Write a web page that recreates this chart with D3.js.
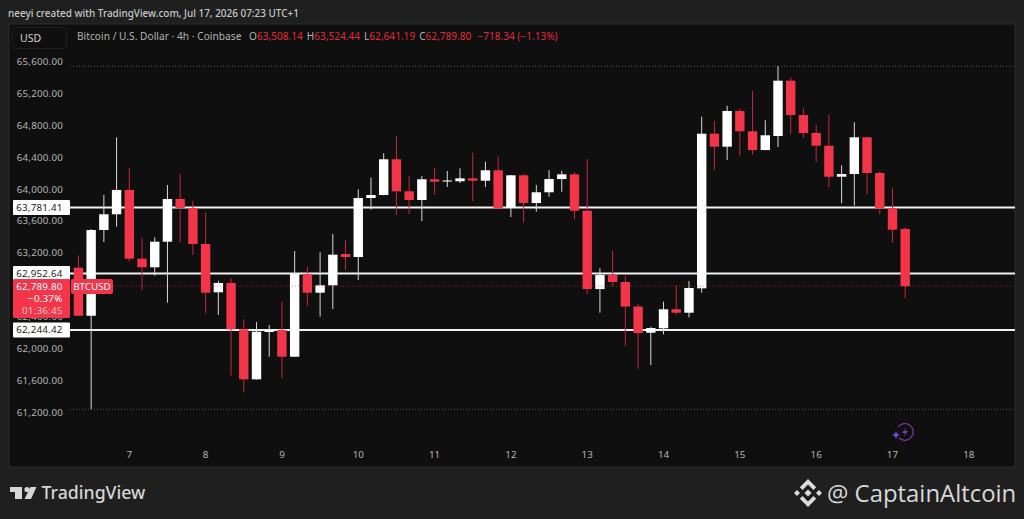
<!DOCTYPE html>
<html>
<head>
<meta charset="utf-8">
<title>BTCUSD 4h</title>
<script src="https://cdn.jsdelivr.net/npm/d3@7"></script>
<style>
  html, body { margin: 0; padding: 0; background: #1f1f1f; overflow: hidden; }
  text { font-family: "Noto Sans", sans-serif; }
</style>
</head>
<body>
<div id="chart"></div>
<script>
// 4h candles
const open = [63022,62419,63495,63692,63997,63135,63027,63348,63884,63771,63319,62713,62830,62249,61621,62215,62240,61905,62942,62708,62801,63193,63156,63896,63934,64382,63980,63871,64131,64103,64106,64143,64113,64244,63774,64181,63833,63968,64134,64193,63737,62754,62930,62842,62535,62206,62261,62500,62457,62763,64703,64540,64988,64733,64498,64674,65368,64937,64712,64552,64163,64197,64658,64210,63767,63508.14];
const high = [63177,63507,63934,64658,64272,63390,63403,64059,64197,63862,63717,62858,62889,62374,62340,62303,62595,63231,63034,63215,63444,63369,64005,64151,64457,64674,64172,64172,64272,64235,64269,64464,64352,64414,64185,64197,64059,64247,64235,64222,64385,63014,63231,62917,62566,62281,62595,62804,62855,64916,64862,65054,65022,65239,64871,65552,65410,65022,64812,64946,64306,64846,64665,64231,64018,63524.44];
const low = [62415,61249,63344,63536,63097,62742,62921,62582,63335,63181,62449,62428,61666,61458,61618,61905,61634,61901,62541,62407,62503,62993,62867,63749,63930,63683,63695,63607,63937,64034,64084,63858,64034,63763,63658,63586,63724,63912,63975,63629,62692,62457,62792,62039,61751,61801,62186,62428,62399,62708,64251,64373,64427,64436,64495,64536,64699,64649,64348,64030,63830,63800,63946,63695,63335,62641.19];
const close = [62419,63495,63692,63997,63135,63027,63348,63884,63771,63319,62708,62830,62249,61621,62219,62240,61905,62942,62708,62801,63185,63156,63896,63934,64382,63980,63871,64131,64101,64116,64143,64113,64244,63767,64181,63833,63968,64134,64193,63737,62754,62930,62842,62535,62202,62265,62500,62457,62767,64703,64540,64988,64733,64498,64683,65368,64937,64712,64552,64163,64197,64658,64210,63767,63498,62789.80];

const firstDay = 6 + 2 / 6;  // first candle, in days of the month
const barsPerDay = 6;

const priceTicks = [65600,65200,64800,64400,64000,63600,63200,62400,62000,61600,61200];
const dayTicks = [7,8,9,10,11,12,13,14,15,16,17,18];
const levels = [63781.41, 62952.64, 62244.42];
const lastPrice = 62789.80;
const sessionHigh = 65552, sessionLow = 61249;

const width = 1024, height = 519;
const panel = { left: 9, top: 24, right: 1015, bottom: 467 };
const plotLeft = 70;

const red = "#f23549", white = "#ffffff", gray = "#b4b4b4";
const labelSize = "9.8px";

const svg = d3.select("#chart").append("svg")
    .attr("width", width)
    .attr("height", height)
    .style("display", "block");

svg.append("rect").attr("width", width).attr("height", height).attr("fill", "#1f1f1f");
svg.append("rect")
    .attr("x", panel.left).attr("y", panel.top)
    .attr("width", panel.right - panel.left).attr("height", panel.bottom - panel.top)
    .attr("fill", "#0f0f0f").attr("stroke", "#2c2c2c");

// Scales
const x = d3.scaleLinear().domain([7, 18]).range([129.3, 968.8]);
const y = d3.scaleLinear().domain([61200, 65600]).range([412.9, 62.2]);

const bars = open.map((o, i) => ({
  day: firstDay + i / barsPerDay, o, h: high[i], l: low[i], c: close[i]
}));

// Y axis
const yAxis = svg.append("g")
    .attr("transform", "translate(63,-0.8)")
    .call(d3.axisLeft(y).tickValues(priceTicks).tickFormat(d3.format(",.2f")).tickSize(0).tickPadding(0));
yAxis.select(".domain").remove();
yAxis.selectAll("text").attr("fill", gray).style("font-size", labelSize).style("letter-spacing", "0.2px");

// X axis
const xAxis = svg.append("g")
    .attr("transform", "translate(-0.5,451.5)")
    .call(d3.axisBottom(x).tickValues(dayTicks).tickFormat(d3.format("d")).tickSize(0).tickPadding(0));
xAxis.select(".domain").remove();
xAxis.selectAll("text").attr("fill", gray).style("font-size", labelSize);

// Session high / low dotted lines
svg.selectAll(".extreme")
    .data([sessionHigh, sessionLow])
    .enter().append("line")
    .attr("x1", plotLeft).attr("x2", panel.right)
    .attr("y1", d => y(d) + 0.3).attr("y2", d => y(d) + 0.3)
    .attr("stroke", "#555").attr("stroke-dasharray", "1,2");

// Horizontal levels sit behind the candles
svg.selectAll(".level")
    .data(levels)
    .enter().append("line")
    .attr("x1", plotLeft).attr("x2", panel.right)
    .attr("y1", d => y(d) + 0.3).attr("y2", d => y(d) + 0.3)
    .attr("stroke", "#f2f2f2").attr("stroke-width", 2);

// Candles
const candleW = 9.4;
const candle = svg.append("g").selectAll("g").data(bars).enter().append("g");
candle.append("line")
    .attr("x1", d => x(d.day)).attr("x2", d => x(d.day))
    .attr("y1", d => y(d.h)).attr("y2", d => y(d.l))
    .attr("stroke", d => d.c >= d.o ? "#d8d8d8" : "#c4283a");
candle.append("rect")
    .attr("x", d => x(d.day) - candleW / 2)
    .attr("width", candleW)
    .attr("y", d => y(Math.max(d.o, d.c)))
    .attr("height", d => Math.max(1, Math.abs(y(d.o) - y(d.c))))
    .attr("fill", d => d.c >= d.o ? white : red);

// Last price line
svg.append("line")
    .attr("x1", plotLeft).attr("x2", panel.right)
    .attr("y1", y(lastPrice)).attr("y2", y(lastPrice))
    .attr("stroke", red).attr("stroke-opacity", 0.6).attr("stroke-dasharray", "1,2");

// Level labels
const levelFmt = d3.format(",.2f");
const levelLabel = svg.selectAll(".levelLabel").data(levels).enter().append("g")
    .attr("transform", d => `translate(13,${y(d) - 7.2})`);
levelLabel.append("rect").attr("width", 57).attr("height", 15).attr("rx", 1).attr("fill", "#fff");
levelLabel.append("text")
    .attr("x", 49.5).attr("y", 11)
    .attr("text-anchor", "end")
    .attr("fill", "#1a1a1a")
    .style("font-size", labelSize).style("letter-spacing", "0.2px")
    .text(d => levelFmt(d));

// Last price tag
svg.append("rect").attr("x", 13).attr("y", 279).attr("width", 57).attr("height", 39).attr("rx", 1).attr("fill", red);
const tagLines = [["62,789.80", 290, "#fff"], ["\u22120.37%", 302, "#fff"], ["01:36:45", 314, "#ffc4ca"]];
svg.selectAll(".tag").data(tagLines).enter().append("text")
    .attr("x", 62.5).attr("y", d => d[1])
    .attr("text-anchor", "end")
    .attr("fill", d => d[2])
    .style("font-size", labelSize).style("letter-spacing", "0.2px")
    .text(d => d[0]);
svg.append("rect").attr("x", 71).attr("y", 279).attr("width", 42).attr("height", 15).attr("rx", 2).attr("fill", red);
svg.append("text").attr("x", 92).attr("y", 290).attr("text-anchor", "middle")
    .attr("fill", "#fff").style("font-size", labelSize).text("BTCUSD");

// Header
svg.append("text").attr("x", 8).attr("y", 17)
    .attr("fill", "#c8c8c8").style("font-size", "9.95px").style("font-weight", 500)
    .text("neeyi created with TradingView.com, Jul 17, 2026 07:23 UTC+1");

svg.append("rect").attr("x", 12.5).attr("y", 27.5).attr("width", 54).attr("height", 21).attr("rx", 4)
    .attr("fill", "none").attr("stroke", "#333").attr("stroke-dasharray", "1,1");
svg.append("text").attr("x", 20).attr("y", 42).attr("fill", "#d4d4d4").style("font-size", "10.5px").text("USD");

// Legend line
svg.append("text").attr("x", 77).attr("y", 40)
    .attr("fill", gray).style("font-size", "10.1px").style("letter-spacing", "0.05px")
    .text("Bitcoin / U.S. Dollar \u00b7 4h \u00b7 Coinbase");
const legend = [["O", "63,508.14"], ["H", "63,524.44"], ["L", "62,641.19"], ["C", "62,789.80"]];
const legendText = svg.append("text").attr("x", 249).attr("y", 40).style("font-size", "10.1px");
legend.forEach((d, i) => {
  legendText.append("tspan").attr("fill", gray).attr("dx", i ? 4 : 0).text(d[0]);
  legendText.append("tspan").attr("fill", "#e0293d").text(d[1]);
});
legendText.append("tspan").attr("fill", "#e0293d").attr("dx", 6).text("\u2212718.34 (\u22121.13%)");

// TradingView logo
const logo = svg.append("g").attr("fill", "#d6d6d6");
logo.append("path").attr("d", "M10 487H22V499H15V492H10Z");
logo.append("circle").attr("cx", 27).attr("cy", 489.5).attr("r", 2.6);
logo.append("path").attr("d", "M30.5 487H36.5L31 499H24.5Z");
svg.append("text").attr("x", 41.5).attr("y", 499)
    .attr("fill", "#d6d6d6").style("font-size", "17.7px").style("font-weight", 500)
    .text("TradingView");

// Binance mark
const bnb = svg.append("g").attr("transform", "translate(808,493)").attr("fill", "#dcdcdc");
bnb.append("path").attr("d", "M0 -3.6L3.6 0L0 3.6L-3.6 0Z");
bnb.append("path").attr("d", "M-14 0L-11 -3L-8 0L-11 3Z");
bnb.append("path").attr("d", "M14 0L11 -3L8 0L11 3Z");
bnb.append("path").attr("d", "M0 -14L8.2 -5.8L5.4 -3L0 -8.4L-5.4 -3L-8.2 -5.8Z");
bnb.append("path").attr("d", "M0 14L8.2 5.8L5.4 3L0 8.4L-5.4 3L-8.2 5.8Z");

svg.append("text").attr("x", 827).attr("y", 502)
    .attr("fill", "#d8d8d8").style("font-size", "23.9px").style("font-family", "'Open Sans'")
    .text("@ CaptainAltcoin");

// Purple flash marker
const flash = svg.append("g").attr("transform", "translate(905,432)");
flash.append("path").attr("d", "M-7 -5A8.4 8.4 0 1 1 -6 6")
    .attr("fill", "none").attr("stroke", "#7e3aa0").attr("stroke-width", 1.2);
flash.append("path").attr("d", "M1.5 -5L-3 1H0L-1.5 5L3 -1H0Z").attr("fill", "#7e3aa0");
flash.append("path").attr("d", "M-9 -1L-7.8 1.8L-5 3L-7.8 4.2L-9 7L-10.2 4.2L-13 3L-10.2 1.8Z").attr("fill", "#6a4cf0");
</script>
</body>
</html>
